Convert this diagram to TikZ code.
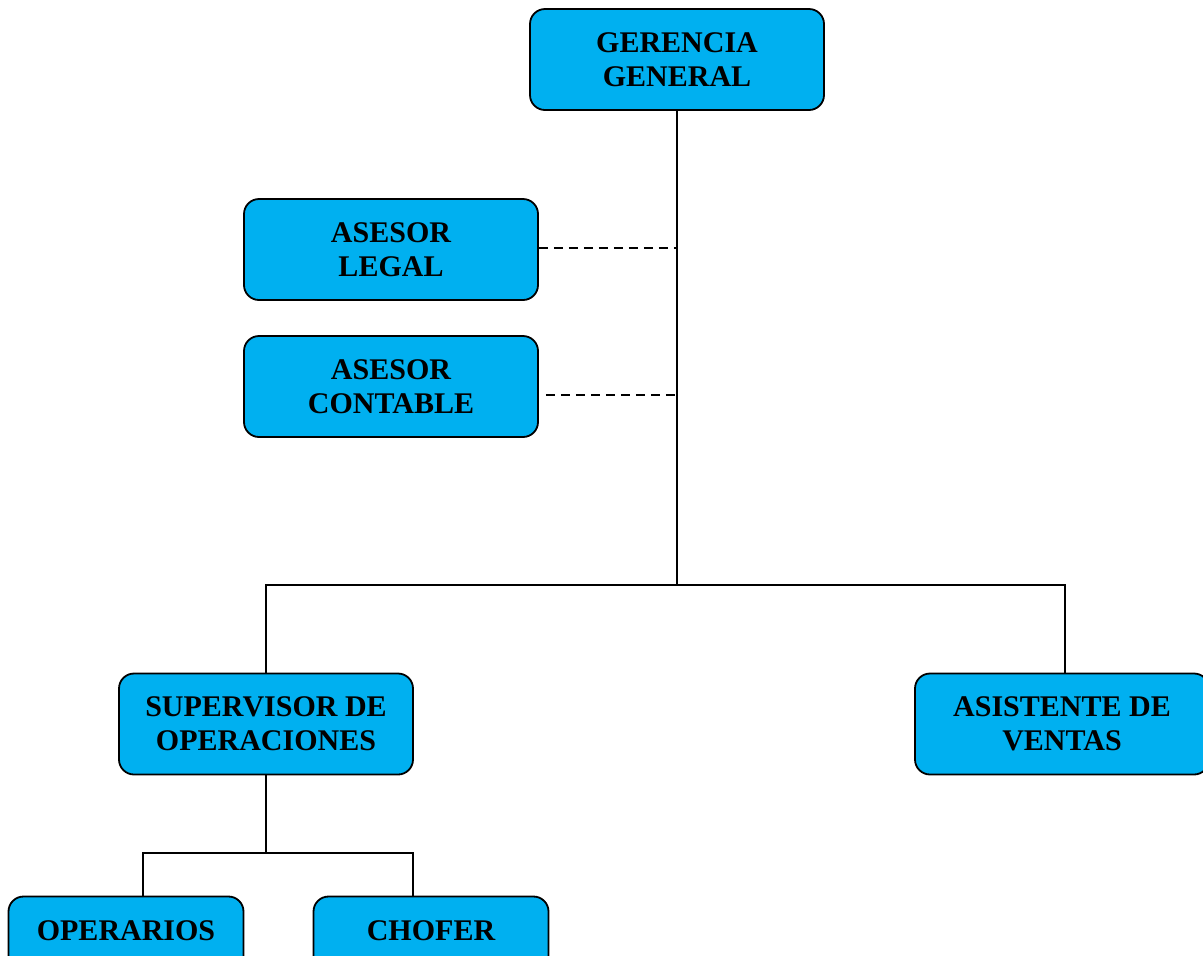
\documentclass[tikz,border=0pt]{standalone}
\usepackage{fontspec}
\setmainfont{Liberation Serif}
\usetikzlibrary{positioning, calc}

\begin{document}
\begin{tikzpicture}[x=0.5pt, y=-0.5pt, line width=0.9pt,
    puesto/.style={draw, rounded corners=7.5pt, fill=cajacian, align=center,
      minimum width=147pt, minimum height=50.5pt, inner sep=2pt,
      font=\fontsize{15}{17}\selectfont\bfseries},
    chico/.style={puesto, minimum width=117.5pt}]
        \definecolor{cajacian}{HTML}{00B0F0}
        \useasboundingbox (0,0) rectangle (1203,955);
        \clip (0,0) rectangle (1203,955);

        % Nodes
        \node [puesto] (gg)   at (677, 59.5)  {GERENCIA\\GENERAL};
        \node [puesto] (leg)  at (391, 249.5) {ASESOR\\LEGAL};
        \node [puesto] (cont) at (391, 386.5) {ASESOR\\CONTABLE};
        \node [puesto] (sup)  at (266, 724)   {SUPERVISOR DE\\OPERACIONES};
        \node [puesto] (asis) at (1062, 724)  {ASISTENTE DE\\VENTAS};
        \node [chico]  (oper) at (126, 947)   {OPERARIOS\\[-6pt]\strut};
        \node [chico]  (chof) at (431, 947)   {CHOFER\\[-6pt]\strut};

        \coordinate (split)  at (677, 585);
        \coordinate (split2) at (266, 853);

        % Edges
        \draw (gg) -- (split);
        \draw (sup.north) |- (split) -| ([xshift=1.5pt]asis.north);
        \draw[dash pattern=on 4.5pt off 3pt, line width=1pt] ([yshift=1pt]leg.east) -- ([yshift=1pt]leg.east -| gg.south);
        \draw[dash pattern=on 4.5pt off 3pt, line width=1pt] ([xshift=3.5pt, yshift=-4.2pt]cont.east) -- ([yshift=-4.2pt]cont.east -| gg.south);
        \draw (sup) -- (split2);
        \draw ([xshift=8.5pt]oper.north) |- (split2) -| ([xshift=-9pt]chof.north);

      \end{tikzpicture}
\end{document}
